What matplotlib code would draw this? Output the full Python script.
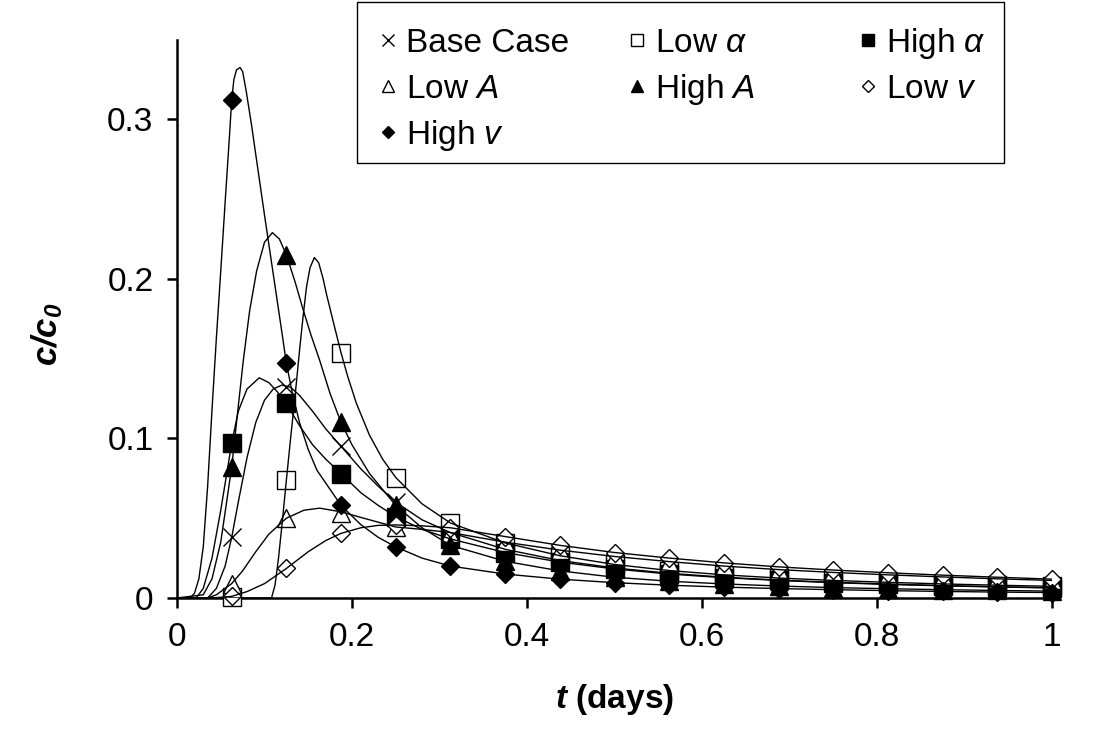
import matplotlib
matplotlib.use("Agg")
import matplotlib.pyplot as plt
from matplotlib.patches import Rectangle
from matplotlib.lines import Line2D

plt.rcParams.update({
    "font.family": ["Liberation Sans", "DejaVu Sans"],
    "mathtext.fontset": "custom",
    "mathtext.rm": "Liberation Sans",
    "mathtext.it": "Liberation Sans:italic",
    "mathtext.bf": "Liberation Sans:italic:bold",
})

# ---- sampled concentrations (markers) ----
t_obs = [0.0625, 0.125, 0.1875, 0.25, 0.3125, 0.375, 0.4375, 0.5,
         0.5625, 0.625, 0.6875, 0.75, 0.8125, 0.875, 0.9375, 1.0]

base_obs = [0.038, 0.132, 0.095, 0.060, 0.041, 0.0305, 0.0235, 0.0188,
            0.0155, 0.0130, 0.0112, 0.0098, 0.0087, 0.0078, 0.0070, 0.0064]
low_alpha_obs = [0.0006, 0.074, 0.1536, 0.0755, 0.047, 0.0345, 0.0265, 0.0210,
                 0.0172, 0.0145, 0.0125, 0.0110, 0.0098, 0.0088, 0.0080, 0.0073]
high_alpha_obs = [0.097, 0.122, 0.078, 0.051, 0.037, 0.0285, 0.0225, 0.0182,
                  0.0150, 0.0127, 0.0110, 0.0096, 0.0085, 0.0076, 0.0069, 0.0063]
low_A_obs = [0.009, 0.050, 0.053, 0.0445, 0.041, 0.0350, 0.0300, 0.0260,
             0.0228, 0.0200, 0.0178, 0.0160, 0.0145, 0.0132, 0.0120, 0.0110]
high_A_obs = [0.0824, 0.2152, 0.110, 0.058, 0.033, 0.0230, 0.0170, 0.0130,
              0.0105, 0.0088, 0.0075, 0.0065, 0.0058, 0.0052, 0.0047, 0.0043]
low_v_obs = [0.001, 0.0185, 0.0405, 0.0458, 0.0440, 0.0385, 0.0330, 0.0285,
             0.0250, 0.0220, 0.0195, 0.0175, 0.0158, 0.0143, 0.0130, 0.0118]
high_v_obs = [0.312, 0.147, 0.058, 0.032, 0.020, 0.0150, 0.0118, 0.0096,
              0.0080, 0.0068, 0.0059, 0.0052, 0.0046, 0.0041, 0.0037, 0.0034]

# ---- model curves ----
t_tail = [0.375, 0.4375, 0.5, 0.5625, 0.625, 0.6875, 0.75, 0.8125, 0.875, 0.9375, 1.0]

base_t = [0, 0.035, 0.045, 0.055, 0.0625, 0.07, 0.08, 0.09, 0.1, 0.11, 0.12,
          0.13, 0.14, 0.155, 0.17, 0.1875, 0.21, 0.23, 0.25, 0.28, 0.3125] + t_tail
base_c = [0, 0, 0.006, 0.020, 0.038, 0.060, 0.088, 0.110, 0.124, 0.131, 0.1335,
          0.132, 0.127, 0.117, 0.106, 0.095, 0.081, 0.070, 0.060, 0.049, 0.041,
          0.0305, 0.0235, 0.0188, 0.0155, 0.0130, 0.0112, 0.0098, 0.0087, 0.0078,
          0.0070, 0.0064]

low_alpha_t = [0, 0.108, 0.112, 0.116, 0.12, 0.125, 0.13, 0.135, 0.14, 0.144,
               0.148, 0.152, 0.157, 0.162, 0.167, 0.171, 0.18, 0.1875, 0.195,
               0.205, 0.22, 0.235, 0.25, 0.28, 0.3125] + t_tail
low_alpha_c = [0, 0, 0.008, 0.025, 0.046, 0.074, 0.101, 0.127, 0.155, 0.176,
               0.195, 0.207, 0.2134, 0.210, 0.200, 0.190, 0.170, 0.1536, 0.139,
               0.122, 0.102, 0.087, 0.0755, 0.059, 0.047,
               0.0345, 0.0265, 0.0210, 0.0172, 0.0145, 0.0125, 0.0110, 0.0098,
               0.0088, 0.0080, 0.0073]

high_alpha_t = [0, 0.022, 0.03, 0.04, 0.05, 0.0625, 0.07, 0.08, 0.094, 0.105,
                0.115, 0.125, 0.14, 0.155, 0.17, 0.1875, 0.21, 0.23, 0.25, 0.28,
                0.3125] + t_tail
high_alpha_c = [0, 0, 0.006, 0.025, 0.055, 0.097, 0.117, 0.131, 0.138, 0.135,
                0.129, 0.122, 0.108, 0.096, 0.087, 0.078, 0.066, 0.058, 0.051,
                0.043, 0.037,
                0.0285, 0.0225, 0.0182, 0.0150, 0.0127, 0.0110, 0.0096, 0.0085,
                0.0076, 0.0069, 0.0063]

low_A_t = [0, 0.035, 0.045, 0.0625, 0.075, 0.09, 0.105, 0.125, 0.145, 0.163,
           0.1875, 0.21, 0.25, 0.28, 0.3125] + t_tail
low_A_c = [0, 0, 0.002, 0.009, 0.017, 0.029, 0.040, 0.050, 0.055, 0.0563,
           0.054, 0.0505, 0.0445, 0.043, 0.041,
           0.0350, 0.0300, 0.0260, 0.0228, 0.0200, 0.0178, 0.0160, 0.0145,
           0.0132, 0.0120, 0.0110]

high_A_t = [0, 0.03, 0.04, 0.05, 0.0625, 0.07, 0.0758, 0.083, 0.091, 0.1, 0.109,
            0.117, 0.125, 0.135, 0.144, 0.153, 0.163, 0.175, 0.1875, 0.2, 0.22,
            0.25, 0.28, 0.3125] + t_tail
high_A_c = [0, 0.002, 0.012, 0.035, 0.082, 0.120, 0.149, 0.180, 0.205, 0.223,
            0.229, 0.225, 0.215, 0.198, 0.181, 0.165, 0.149, 0.128, 0.110,
            0.096, 0.078, 0.058, 0.044, 0.033,
            0.0230, 0.0170, 0.0130, 0.0105, 0.0088, 0.0075, 0.0065, 0.0058,
            0.0052, 0.0047, 0.0043]

low_v_t = [0, 0.04, 0.0625, 0.08, 0.1, 0.125, 0.15, 0.17, 0.1875, 0.21, 0.23,
           0.25, 0.28, 0.3125] + t_tail
low_v_c = [0, 0, 0.001, 0.004, 0.009, 0.0185, 0.029, 0.036, 0.0405, 0.0440,
           0.0455, 0.0458, 0.0452, 0.0440,
           0.0385, 0.0330, 0.0285, 0.0250, 0.0220, 0.0195, 0.0175, 0.0158,
           0.0143, 0.0130, 0.0118]

high_v_t = [0, 0.015, 0.02, 0.025, 0.03, 0.035, 0.04, 0.045, 0.05, 0.055, 0.06,
            0.0625, 0.065, 0.068, 0.072, 0.075, 0.079, 0.0853, 0.09, 0.1, 0.11,
            0.12, 0.125, 0.132, 0.14, 0.15, 0.16, 0.1875, 0.21, 0.23, 0.25,
            0.28, 0.3125] + t_tail
high_v_c = [0, 0, 0.003, 0.012, 0.032, 0.070, 0.118, 0.163, 0.205, 0.248, 0.290,
            0.312, 0.325, 0.331, 0.3325, 0.330, 0.318, 0.296, 0.278, 0.240,
            0.203, 0.166, 0.147, 0.128, 0.110, 0.093, 0.080, 0.058, 0.046,
            0.038, 0.032, 0.025, 0.020,
            0.0150, 0.0118, 0.0096, 0.0080, 0.0068, 0.0059, 0.0052, 0.0046,
            0.0041, 0.0037, 0.0034]

labels = ["Base Case", r"Low $\alpha$", r"High $\alpha$", r"Low $A$",
          r"High $A$", r"Low $v$", r"High $v$"]

styles = [
    dict(marker="x", ms=13, mfc="none"),
    dict(marker="s", ms=13, mfc="white"),
    dict(marker="s", ms=13, mfc="black"),
    dict(marker="^", ms=13, mfc="white"),
    dict(marker="^", ms=13, mfc="black"),
    dict(marker="D", ms=9.5, mfc="white"),
    dict(marker="D", ms=9.5, mfc="black"),
]
obs_list = [base_obs, low_alpha_obs, high_alpha_obs, low_A_obs, high_A_obs,
            low_v_obs, high_v_obs]
curves = [(base_t, base_c), (low_alpha_t, low_alpha_c), (high_alpha_t, high_alpha_c),
          (low_A_t, low_A_c), (high_A_t, high_A_c), (low_v_t, low_v_c),
          (high_v_t, high_v_c)]

fig = plt.figure(figsize=(10.96, 7.47), dpi=100)
ax = fig.add_axes([0.1615, 0.1995, 0.7984, 0.7475])

for i, (obs, st) in enumerate(zip(obs_list, styles)):
    ax.plot(t_obs, obs, linestyle="none", color="black", mec="black", mew=1.0,
            zorder=3 + i * 0.01, clip_on=False, **st)
for ct, cc in curves:
    ax.plot(ct, cc, color="black", lw=1.0, zorder=4)

ax.set_xlim(0, 1)
ax.set_ylim(0, 0.35)
ax.set_xticks([0, 0.2, 0.4, 0.6, 0.8, 1.0])
ax.set_xticklabels(["0", "0.2", "0.4", "0.6", "0.8", "1"])
ax.set_yticks([0, 0.1, 0.2, 0.3])
ax.set_yticklabels(["0", "0.1", "0.2", "0.3"])
ax.tick_params(axis="both", direction="out", length=7, width=1.8,
               labelsize=24, pad=10, color="black")
for side in ("top", "right"):
    ax.spines[side].set_visible(False)
for side in ("left", "bottom"):
    ax.spines[side].set_linewidth(1.8)

ax.set_xlabel(r"$\mathbf{t}$ (days)", fontsize=24, fontweight="bold", labelpad=21)
ax.set_ylabel(r"$\mathbf{c/c_0}$", fontsize=25, fontweight="bold", labelpad=30)
ax.yaxis.label.set_y(0.472)

# key: three equal-width columns, filled row by row, inside one frame
W, H = 1096.0, 747.0
key_cols = [388, 637, 868]      # marker centres (px)
key_rows = [40, 86, 132]        # row centres (px)
for k, (lab, st) in enumerate(zip(labels, styles)):
    r, c = divmod(k, 3)
    xm, ym = key_cols[c] / W, 1 - key_rows[r] / H
    kst = dict(st)
    kst["ms"] = st["ms"] * 0.62
    fig.add_artist(Line2D([xm], [ym], transform=fig.transFigure, linestyle="none",
                          color="black", mec="black", mew=1.0, **kst))
    fig.text(xm + 18 / W, 1 - (key_rows[r] + 12) / H, lab, fontsize=24,
             ha="left", va="baseline")
fig.add_artist(Rectangle((357 / W, 1 - 163 / H), 647 / W, 161 / H,
                         transform=fig.transFigure, fill=False,
                         edgecolor="black", linewidth=1.0))

fig.savefig("out.png", dpi=100, facecolor="white")
